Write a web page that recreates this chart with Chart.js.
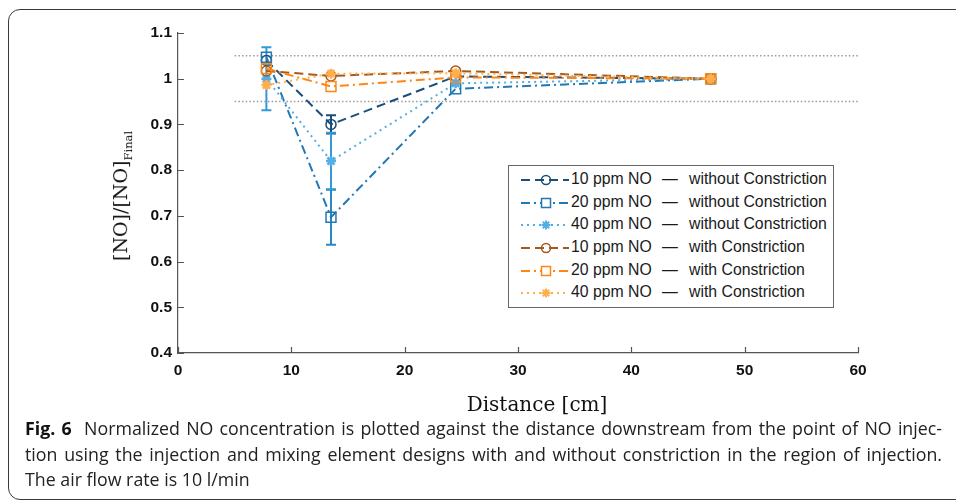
<!DOCTYPE html>
<html>
<head>
<meta charset="utf-8">
<script src="https://cdn.jsdelivr.net/npm/chart.js@4.4.1/dist/chart.umd.min.js"></script>
<style>
  html, body { margin: 0; padding: 0; background: #fff; }
  body { width: 956px; height: 502px; position: relative; overflow: hidden; font-family: "Liberation Sans", Arial, sans-serif; }
  #frame { position: absolute; left: 8px; top: 9px; width: 990px; height: 489px; border: 1.5px solid #3a3a3a; border-radius: 12px; }
  #plot { position: absolute; left: 0; top: 0; width: 956px; height: 420px; }
  #ylabel { position: absolute; left: 122px; top: 196px; transform: translate(-50%, -50%) rotate(-90deg);
            font-family: "DejaVu Serif", serif; font-size: 19px; white-space: nowrap; color: #111; }
  #ylabel sub { font-size: 11.5px; }
  #xlabel { position: absolute; left: 537px; top: 404px; transform: translate(-50%, -50%);
            font-family: "DejaVu Serif", serif; font-size: 20px; white-space: nowrap; color: #111; }
  #legend { position: absolute; left: 508px; top: 165px; width: 324px; height: 138px; border: 1.5px solid #666;
            background: #fff; padding-top: 3px; box-sizing: content-box; }
  .row { position: relative; height: 22.7px; font-size: 15.8px; color: #1a1a1a; }
  .row svg { position: absolute; left: 12px; top: 4px; }
  .row span { position: absolute; top: 1px; white-space: nowrap; }
  #caption { position: absolute; left: 25px; top: 416px; width: 917px; font-family: "Open Sans", sans-serif; font-size: 17.8px;
             line-height: 25.5px; color: #222; }
  #caption div { white-space: nowrap; }
  #caption .just { text-align: justify; text-align-last: justify; }
  #caption b { color: #111; }
</style>
</head>
<body>
<div id="frame"></div>
<div id="plot"><canvas id="chart" width="956" height="420"></canvas></div>
<div id="ylabel">[NO]/[NO]<sub>Final</sub></div>
<div id="xlabel">Distance [cm]</div>
<div id="legend"></div>
<div id="caption">
  <div class="just"><b>Fig. 6</b>&nbsp; Normalized NO concentration is plotted against the distance downstream from the point of NO injec-</div>
  <div class="just">tion using the injection and mixing element designs with and without constriction in the region of injection.</div>
  <div>The air flow rate is 10 l/min</div>
</div>

<script>
// measurement positions along the channel (cm)
const distance = [7.8, 13.5, 24.5, 47];

// normalized NO concentration
const no10Without = [1.040, 0.900, 1.005, 1.000];
const no20Without = [1.047, 0.697, 0.978, 1.000];
const no40Without = [1.000, 0.820, 0.990, 1.000];
const no10With    = [1.017, 1.006, 1.017, 1.000];
const no20With    = [1.022, 0.983, 1.003, 1.000];
const no40With    = [0.986, 1.011, 1.012, 1.000];

// error bar half widths (null = no bar)
const err10Without = [null, 0.020, null, null];
const err20Without = [null, 0.060, null, null];
const err40Without = [0.069, 0.062, null, null];

// +-5 % band
const bandX = [5, 60];
const bandUpper = [1.05, 1.05];
const bandLower = [0.95, 0.95];

const xTicks = [0, 10, 20, 30, 40, 50, 60];
const yTicks = [0.4, 0.5, 0.6, 0.7, 0.8, 0.9, 1.0, 1.1];

const seriesNames = ['10 ppm NO', '20 ppm NO', '40 ppm NO', '10 ppm NO', '20 ppm NO', '40 ppm NO'];
const seriesConditions = ['without Constriction', 'without Constriction', 'without Constriction',
                          'with Constriction', 'with Constriction', 'with Constriction'];

const colors = ['#1b4d7a', '#2278b5', '#55aee3', '#a35a1c', '#ff8615', '#ffb04d'];
const dashes = [[9, 5], [9, 4, 2, 4], [2, 4], [9, 5], [9, 4, 2, 4], [2, 4]];
const markers = ['circle', 'rect', 'star', 'circle', 'rect', 'star'];
const values = [no10Without, no20Without, no40Without, no10With, no20With, no40With];

const toPoints = (xs, ys) => xs.map((x, i) => ({ x: x, y: ys[i] }));

const datasets = values.map((v, i) => ({
  label: seriesNames[i] + ' - ' + seriesConditions[i],
  data: toPoints(distance, v),
  borderColor: colors[i],
  borderWidth: 2,
  borderDash: dashes[i],
  pointStyle: markers[i],
  pointRadius: markers[i] === 'rect' ? 7 : 5,
  pointBorderWidth: markers[i] === 'star' ? 2.5 : 1.5,
  pointBorderColor: colors[i],
  pointBackgroundColor: markers[i] === 'star' ? colors[i] : 'rgba(255,255,255,0)',
  order: 10 - i
}));

[bandUpper, bandLower].forEach(b => datasets.push({
  data: toPoints(bandX, b),
  borderColor: '#9a9a9a',
  borderWidth: 1.5,
  borderDash: [1.5, 2.2],
  pointRadius: 0,
  order: 20
}));

const errorBars = [
  { err: err10Without, vals: no10Without, color: '#1b4d7a' },
  { err: err20Without, vals: no20Without, color: '#2a88c8' },
  { err: err40Without, vals: no40Without, color: '#3399d8' }
];

// error bars and MATLAB-style inward ticks
const matlabAxes = {
  id: 'matlabAxes',
  beforeDatasetsDraw(chart) {
    const { ctx, scales: { x, y } } = chart;
    ctx.save();
    ctx.lineWidth = 2;
    errorBars.forEach(e => {
      ctx.strokeStyle = e.color;
      e.err.forEach((d, i) => {
        if (d == null) return;
        const px = x.getPixelForValue(distance[i]);
        const top = y.getPixelForValue(e.vals[i] + d);
        const bot = y.getPixelForValue(e.vals[i] - d);
        ctx.beginPath();
        ctx.moveTo(px, top); ctx.lineTo(px, bot);
        ctx.moveTo(px - 5, top); ctx.lineTo(px + 5, top);
        ctx.moveTo(px - 5, bot); ctx.lineTo(px + 5, bot);
        ctx.stroke();
      });
    });
    ctx.restore();
  },
  afterDraw(chart) {
    const { ctx, scales: { x, y } } = chart;
    ctx.save();
    ctx.strokeStyle = '#555';
    ctx.lineWidth = 1.2;
    ctx.beginPath();
    xTicks.forEach(t => {
      const px = Math.round(x.getPixelForValue(t)) + 0.5;
      ctx.moveTo(px, y.bottom); ctx.lineTo(px, y.bottom - 6);
    });
    yTicks.forEach(t => {
      const py = Math.round(y.getPixelForValue(t)) + 0.5;
      ctx.moveTo(x.left, py); ctx.lineTo(x.left + 6, py);
    });
    ctx.stroke();
    ctx.restore();
  }
};

const tickFont = { family: '"Liberation Sans", Arial, sans-serif', size: 15.5, weight: 'bold' };

new Chart(document.getElementById('chart'), {
  type: 'line',
  data: { datasets: datasets },
  options: {
    responsive: false,
    animation: false,
    layout: { padding: { left: 0, top: 33, right: 98, bottom: 0 } },
    plugins: { legend: { display: false }, tooltip: { enabled: false } },
    scales: {
      x: {
        type: 'linear', min: 0, max: 60,
        afterBuildTicks: s => { s.ticks = xTicks.map(v => ({ value: v })); },
        afterFit: s => { s.height = 67; },
        grid: { display: false, drawTicks: false },
        border: { display: true, color: '#555', width: 1.2 },
        ticks: { font: tickFont, color: '#111', padding: 8, maxRotation: 0 }
      },
      y: {
        type: 'linear', min: 0.4, max: 1.1,
        afterBuildTicks: s => { s.ticks = yTicks.map(v => ({ value: v })); },
        afterFit: s => { s.width = 178; },
        grid: { display: false, drawTicks: false },
        border: { display: true, color: '#555', width: 1.2 },
        ticks: { font: tickFont, color: '#111', padding: 6, callback: v => String(Number(v.toFixed(1))) }
      }
    }
  },
  plugins: [matlabAxes]
});

// legend built from the series lists
const legend = document.getElementById('legend');
const svgNS = 'http://www.w3.org/2000/svg';
seriesNames.forEach((name, i) => {
  const row = document.createElement('div');
  row.className = 'row';
  const c = colors[i];
  let mark;
  if (markers[i] === 'circle') {
    mark = `<circle cx="25" cy="7" r="4.5" fill="none" stroke="${c}" stroke-width="1.5"/>`;
  } else if (markers[i] === 'rect') {
    mark = `<rect x="20.5" y="2.5" width="9" height="9" fill="#fff" stroke="${c}" stroke-width="1.5"/>`;
  } else {
    mark = `<path d="M25 2.5V11.5M20.5 7H29.5M21.8 3.8L28.2 10.2M28.2 3.8L21.8 10.2" stroke="${c}" stroke-width="2"/>`;
  }
  row.innerHTML =
    `<svg width="48" height="14" xmlns="${svgNS}">` +
    `<line x1="0" y1="7" x2="48" y2="7" stroke="${c}" stroke-width="2" stroke-dasharray="${dashes[i].join(' ')}"/>` +
    mark + `</svg>` +
    `<span style="left:62px">${name}</span>` +
    `<span style="left:153px">—</span>` +
    `<span style="left:180px">${seriesConditions[i]}</span>`;
  legend.appendChild(row);
});
</script>
</body>
</html>
